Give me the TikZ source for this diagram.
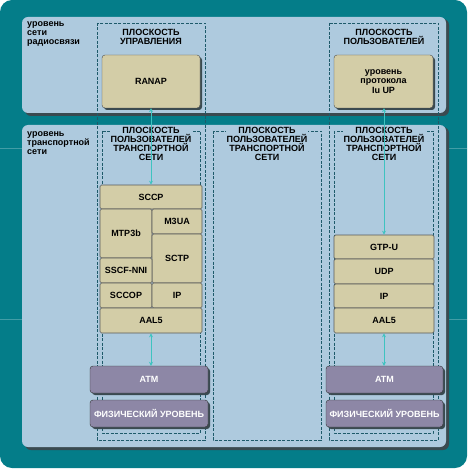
\documentclass[tikz,border=0pt]{standalone}
\usepackage{fontspec}
\setmainfont{Liberation Sans}
\usetikzlibrary{arrows.meta}
\definecolor{tealbg}{HTML}{047D89}
\definecolor{panel}{HTML}{AECADE}
\definecolor{tanc}{HTML}{D3CDA7}
\definecolor{purp}{HTML}{8D87A6}
\definecolor{dash}{HTML}{1E5A6A}
\definecolor{arr}{HTML}{3EC3C0}
\definecolor{shad}{HTML}{3A4A50}
\begin{document}
\begin{tikzpicture}[x=1pt,y=-1pt,
  lbl/.style={font=\bfseries\fontsize{9}{9}\selectfont, inner sep=0pt},
  stk/.style={draw=gray!70!black, line width=0.6pt, fill=tanc, rounded corners=1.5pt, inner sep=0pt,
     font=\bfseries\fontsize{9}{9}\selectfont},
  topbox/.style={draw=gray!60!black, fill=tanc, rounded corners=3pt, inner sep=0pt,
     font=\bfseries\fontsize{9}{9.5}\selectfont, align=center},
  phys/.style={draw=gray!40!black, fill=purp, rounded corners=3pt, inner sep=0pt, text=white,
     font=\bfseries\fontsize{9}{9}\selectfont},
  dbox/.style={draw=dash, dashed, dash pattern=on 3pt off 1.5pt, line width=0.7pt},
  plabel/.style={font=\bfseries\fontsize{9}{9}\selectfont, align=center, inner sep=1pt},
  conn/.style={draw=arr, line width=0.9pt, {Stealth[length=4pt,width=4pt]}-{Stealth[length=4pt,width=4pt]}}
]
\useasboundingbox (0,0) rectangle (470,473);
\fill[white] (0,0) rectangle (470,473);
% teal background
\fill[tealbg, rounded corners=12pt] (0,0) rectangle (467,468);
% faint lines
\draw[white, opacity=0.25, line width=0.6pt] (0,148) -- (467,148);
\draw[white, opacity=0.25, line width=0.6pt] (0,319) -- (467,319);
% panels with shadows
\fill[shad, rounded corners=6pt] (25,19) rectangle (449,116);
\fill[panel, rounded corners=6pt] (22,17) rectangle (446,113);
\fill[shad, rounded corners=6pt] (25,127) rectangle (449,450);
\fill[panel, rounded corners=6pt] (22,125) rectangle (446,447);
% panel labels
\node[lbl, anchor=north west, align=left] (radio) at (27,21) {уровень\\сети\\радиосвязи};
\node[lbl, anchor=north west, align=left] (trans) at (27,131) {уровень\\транспортной\\сети};
% dashed plane boxes
\draw[dbox] (97,23) rectangle (205,440);
\draw[dbox] (102,131) rectangle (200,433);
\draw[dbox] (213,131) rectangle (321,440);
\draw[dbox] (329,23) rectangle (438,440);
\draw[dbox] (334,131) rectangle (433,433);
% plane labels
\node[plabel, anchor=north] (cpl) at (151,28) {ПЛОСКОСТЬ\\УПРАВЛЕНИЯ};
\node[plabel, anchor=north] (upl) at (384,28) {ПЛОСКОСТЬ\\ПОЛЬЗОВАТЕЛЕЙ};
\node[plabel, anchor=north, fill=panel] (tl1) at (151,126) {ПЛОСКОСТЬ\\ПОЛЬЗОВАТЕЛЕЙ\\ТРАНСПОРТНОЙ\\СЕТИ};
\node[plabel, anchor=north, fill=panel] (tl2) at (267,126) {ПЛОСКОСТЬ\\ПОЛЬЗОВАТЕЛЕЙ\\ТРАНСПОРТНОЙ\\СЕТИ};
\node[plabel, anchor=north, fill=panel] (tl3) at (384,126) {ПЛОСКОСТЬ\\ПОЛЬЗОВАТЕЛЕЙ\\ТРАНСПОРТНОЙ\\СЕТИ};
% top boxes (with shadows)
\fill[shad, rounded corners=3pt] (104,57) rectangle (202,110);
\node[topbox, minimum width=98, minimum height=53] (ranap) at (151,81.5) {RANAP};
\fill[shad, rounded corners=3pt] (336,57) rectangle (435,110);
\node[topbox, minimum width=99, minimum height=53] (iuup) at (383.5,81.5) {уровень\\протокола\\Iu UP};
% left stack
\node[stk, minimum width=102, minimum height=24] (sccp) at (151,197) {SCCP};
\node[stk, minimum width=52, minimum height=49] (mtp) at (126,233.5) {MTP3b};
\node[stk, minimum width=50, minimum height=25] (m3ua) at (177,221.5) {M3UA};
\node[stk, minimum width=50, minimum height=49] (sctp) at (177,258.5) {SCTP};
\node[stk, minimum width=52, minimum height=25] (sscf) at (126,270.5) {SSCF-NNI};
\node[stk, minimum width=52, minimum height=25] (sccop) at (126,295.5) {SCCOP};
\node[stk, minimum width=50, minimum height=25] (ipl) at (177,295.5) {IP};
\node[stk, minimum width=102, minimum height=25] (aal5l) at (151,320.5) {AAL5};
% right stack
\node[stk, minimum width=100, minimum height=24] (gtpu) at (384,247) {GTP-U};
\node[stk, minimum width=100, minimum height=25] (udp) at (384,271.5) {UDP};
\node[stk, minimum width=100, minimum height=24] (ipr) at (384,296) {IP};
\node[stk, minimum width=100, minimum height=25] (aal5r) at (384,320.5) {AAL5};
% physical boxes with shadows
\fill[shad, rounded corners=3pt] (92,368) rectangle (210,395);
\node[phys, minimum width=118, minimum height=27] (atml) at (149,379.5) {ATM};
\fill[shad, rounded corners=3pt] (92,402) rectangle (210,429);
\node[phys, minimum width=118, minimum height=27] (phyl) at (149,413.5) {ФИЗИЧЕСКИЙ УРОВЕНЬ};
\fill[shad, rounded corners=3pt] (328,368) rectangle (445,395);
\node[phys, minimum width=117, minimum height=27] (atmr) at (384.5,379.5) {ATM};
\fill[shad, rounded corners=3pt] (328,402) rectangle (445,429);
\node[phys, minimum width=117, minimum height=27] (phyr) at (384.5,413.5) {ФИЗИЧЕСКИЙ УРОВЕНЬ};
% connectors
\draw[conn] (ranap.south) -- (sccp.north);
\draw[conn] (iuup.south -| gtpu.north) -- (gtpu.north);
\draw[conn] (aal5l.south) -- (atml.north -| aal5l.south);
\draw[conn] (aal5r.south) -- (atmr.north -| aal5r.south);
\end{tikzpicture}
\end{document}
